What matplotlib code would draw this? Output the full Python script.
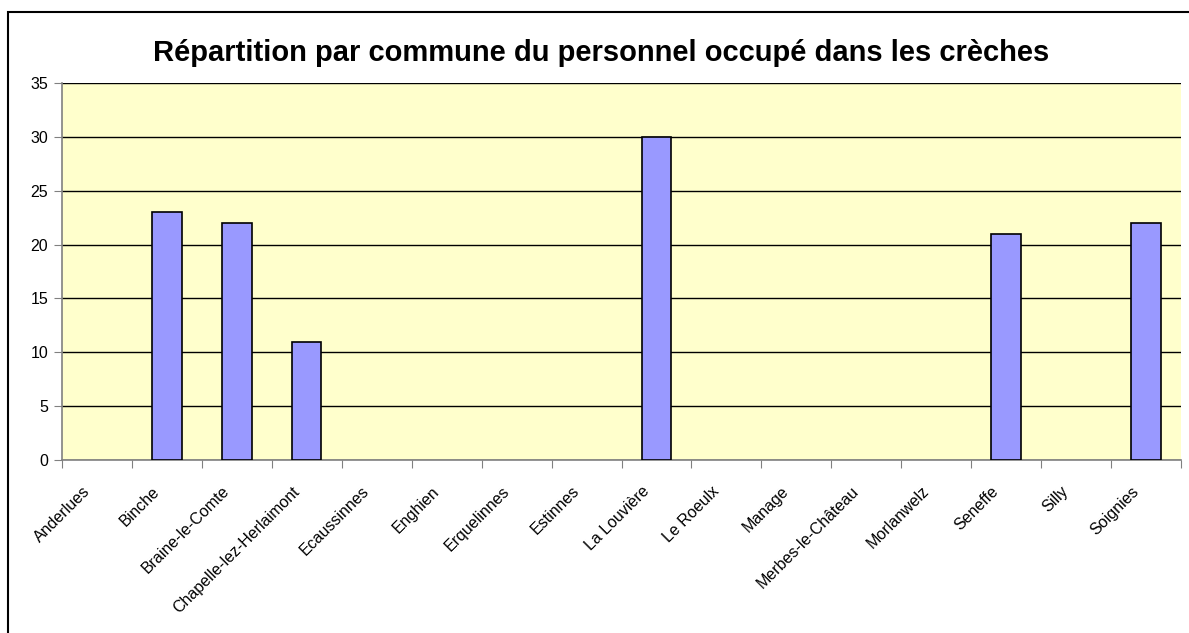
import matplotlib
matplotlib.use('Agg')
import matplotlib.pyplot as plt
import matplotlib.transforms as mtransforms
import numpy as np
from matplotlib.patches import Rectangle

plt.rcParams['font.family'] = ['Liberation Sans', 'DejaVu Sans']

communes = ['Anderlues', 'Binche', 'Braine-le-Comte', 'Chapelle-lez-Herlaimont',
            'Ecaussinnes', 'Enghien', 'Erquelinnes', 'Estinnes', 'La Louvière',
            'Le Roeulx', 'Manage', 'Merbes-le-Château', 'Morlanwelz', 'Seneffe',
            'Silly', 'Soignies']
personnel = [0, 23, 22, 11, 0, 0, 0, 0, 30, 0, 0, 0, 0, 21, 0, 22]
yticks = [0, 5, 10, 15, 20, 25, 30, 35]

BG = '#FFFFCC'
BAR = '#9999FF'

fig = plt.figure(figsize=(11.89, 6.33), dpi=100)
fig.patch.set_facecolor('white')

# outer chart frame (cut off at right/bottom like the source)
fig.add_artist(Rectangle((8 / 1189, -0.05), 1.1, 1 - 12 / 633 + 0.05,
                         transform=fig.transFigure, fill=False,
                         edgecolor='black', linewidth=1.5))

ax = fig.add_axes([62 / 1189, 1 - 460 / 633, (1181 - 62) / 1189, (460 - 83) / 633])
ax.set_facecolor(BG)

x = np.arange(len(communes))
edges = ['black' if v > 0 else 'none' for v in personnel]
ax.bar(x, personnel, width=0.42, color=BAR, edgecolor=edges, linewidth=1.2, zorder=3)

ax.set_xlim(-0.5, len(communes) - 0.5)
ax.set_ylim(0, 35)
ax.set_yticks(yticks)
ax.yaxis.grid(True, color='black', linewidth=1.0, zorder=1)
ax.set_axisbelow(True)

# category ticks sit between categories, labels at centres
ax.set_xticks(np.arange(-0.5, len(communes) + 0.5, 1))
ax.set_xticklabels([])
ax.set_xticks(x, minor=True)
ax.set_xticklabels(communes, minor=True, rotation=45, ha='right',
                   rotation_mode='anchor', fontsize=11.5)
ax.tick_params(axis='x', which='minor', length=0, pad=17)
ax.tick_params(axis='x', which='major', length=6, color='#808080', direction='out')
ax.tick_params(axis='y', length=6, color='#808080', labelsize=11.5, pad=4)

shift = mtransforms.ScaledTranslation(-15 / 100, 0, fig.dpi_scale_trans)
for lab in ax.get_xticklabels(minor=True):
    lab.set_transform(lab.get_transform() + shift)

for s in ['top', 'right']:
    ax.spines[s].set_visible(False)
for s in ['left', 'bottom']:
    ax.spines[s].set_color('#808080')
    ax.spines[s].set_linewidth(1.2)

fig.text(601 / 1189, 1 - 53 / 633,
         'Répartition par commune du personnel occupé dans les crèches',
         ha='center', va='center', fontsize=21, fontweight='bold')

plt.savefig('out.png', dpi=100, facecolor='white')
plt.close()
